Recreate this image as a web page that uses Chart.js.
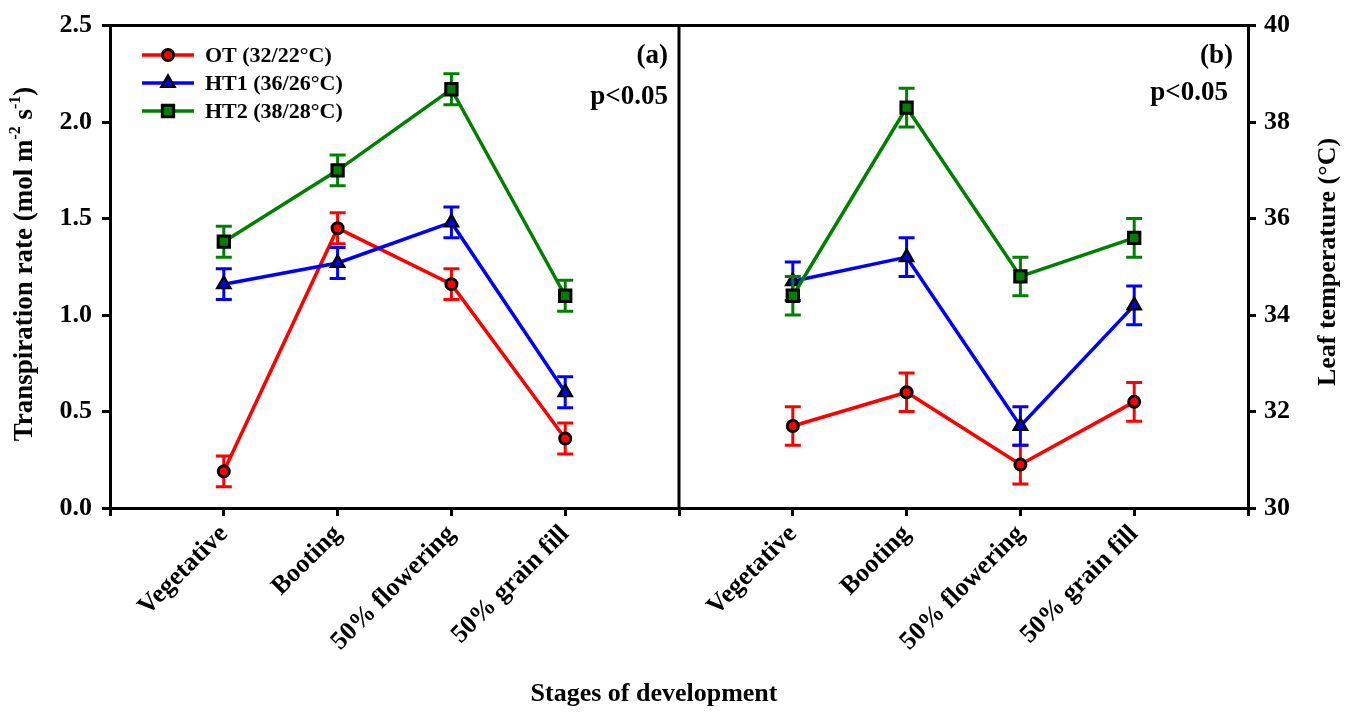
<!DOCTYPE html>
<html>
<head>
<meta charset="utf-8">
<script src="https://cdn.jsdelivr.net/npm/chart.js@4.4.0/dist/chart.umd.min.js"></script>
<style>
  html, body { margin: 0; padding: 0; background: #ffffff; }
  #wrap { position: relative; width: 1356px; height: 716px; }
</style>
</head>
<body>
<div id="wrap"><canvas id="chart" width="1356" height="716"></canvas></div>
<script>
// Growth stages (shared by both panels)
const stages = ['Vegetative', 'Booting', '50% flowering', '50% grain fill'];
const treatments = ['OT (32/22°C)', 'HT1 (36/26°C)', 'HT2 (38/28°C)'];

// Panel (a): transpiration rate, mol m-2 s-1 (mean and error)
const transOT  = [0.19, 1.45, 1.16, 0.36];
const transHT1 = [1.16, 1.27, 1.48, 0.60];
const transHT2 = [1.38, 1.75, 2.17, 1.10];
const transOTErr  = [0.08, 0.08, 0.08, 0.08];
const transHT1Err = [0.08, 0.08, 0.08, 0.08];
const transHT2Err = [0.08, 0.08, 0.08, 0.08];

// Panel (b): leaf temperature, °C (mean and error)
const leafOT  = [31.7, 32.4, 30.9, 32.2];
const leafHT1 = [34.7, 35.2, 31.7, 34.2];
const leafHT2 = [34.4, 38.3, 34.8, 35.6];
const leafOTErr  = [0.4, 0.4, 0.4, 0.4];
const leafHT1Err = [0.4, 0.4, 0.4, 0.4];
const leafHT2Err = [0.4, 0.4, 0.4, 0.4];

// Axis tick values
const transTicks = [0.0, 0.5, 1.0, 1.5, 2.0, 2.5];
const leafTicks  = [30, 32, 34, 36, 38, 40];

const SERIF = "'Liberation Serif', 'Times New Roman', serif";
const RED = '#ff0000', BLUE = '#0000ff', GREEN = '#008000';

// Both panels share one linear x axis: panel (a) uses slots 1-4, panel (b) slots 6-9,
// with the panel divider at 5.
const PANEL_B_OFFSET = 5;
const xOf = (i, panel) => i + 1 + (panel === 'b' ? PANEL_B_OFFSET : 0);

const markerStyles = [
  { pointStyle: 'circle',   pointRadius: 5.5, pointBorderWidth: 3 },
  { pointStyle: 'triangle', pointRadius: 7.5, pointBorderWidth: 2.5 },
  { pointStyle: 'rect',     pointRadius: 8,   pointBorderWidth: 3 }
];
const seriesColors = [RED, BLUE, GREEN];

function makeSeries(idx, values, errors, panel) {
  const m = markerStyles[idx];
  return {
    label: treatments[idx],
    data: values.map((v, i) => ({ x: xOf(i, panel), y: v })),
    errors: errors,
    yAxisID: panel === 'a' ? 'y' : 'y1',
    borderColor: seriesColors[idx],
    backgroundColor: seriesColors[idx],
    borderWidth: 3.5,
    pointStyle: m.pointStyle,
    pointRadius: m.pointRadius,
    pointBorderWidth: m.pointBorderWidth,
    pointBorderColor: '#000000',
    pointBackgroundColor: seriesColors[idx],
    tension: 0,
    clip: false,
    order: 3 - idx
  };
}

// Vertical error bars with caps, drawn just before each series' line and markers
const errorBars = {
  id: 'errorBars',
  beforeDatasetDraw(chart, args) {
    const ds = chart.data.datasets[args.index];
    if (!ds.errors) return;
    const yScale = chart.scales[args.meta.yAxisID];
    const ctx = chart.ctx;
    ctx.save();
    ctx.strokeStyle = ds.borderColor;
    ctx.lineWidth = 3;
    args.meta.data.forEach((pt, i) => {
      const v = ds.data[i].y, e = ds.errors[i];
      const x = pt.x;
      const yTop = yScale.getPixelForValue(v + e);
      const yBot = yScale.getPixelForValue(v - e);
      ctx.beginPath();
      ctx.moveTo(x, yTop); ctx.lineTo(x, yBot);
      ctx.moveTo(x - 8, yTop); ctx.lineTo(x + 8, yTop);
      ctx.moveTo(x - 8, yBot); ctx.lineTo(x + 8, yBot);
      ctx.stroke();
    });
    ctx.restore();
  }
};

function drawMarker(ctx, idx, x, y) {
  const m = markerStyles[idx];
  ctx.save();
  ctx.fillStyle = seriesColors[idx];
  ctx.strokeStyle = '#000000';
  ctx.lineWidth = m.pointBorderWidth;
  ctx.beginPath();
  const r = m.pointRadius;
  if (m.pointStyle === 'circle') {
    ctx.arc(x, y, r, 0, Math.PI * 2);
  } else if (m.pointStyle === 'triangle') {
    for (let k = 0; k < 3; k++) {
      const a = k * 2 * Math.PI / 3;
      const px = x + Math.sin(a) * r, py = y - Math.cos(a) * r;
      if (k === 0) ctx.moveTo(px, py); else ctx.lineTo(px, py);
    }
    ctx.closePath();
  } else {
    const s = Math.SQRT1_2 * r;
    ctx.rect(x - s, y - s, 2 * s, 2 * s);
  }
  ctx.fill();
  ctx.stroke();
  ctx.restore();
}

// Frame, divider, axis titles, legend and panel annotations
const decorations = {
  id: 'decorations',
  afterDraw(chart) {
    const ctx = chart.ctx;
    const area = chart.chartArea;
    const xs = chart.scales.x;
    ctx.save();

    // top edge of the frame and the divider between the two panels
    ctx.strokeStyle = '#000000';
    ctx.lineWidth = 3;
    ctx.beginPath();
    ctx.moveTo(area.left - 1.5, area.top);
    ctx.lineTo(area.right + 1.5, area.top);
    const xd = xs.getPixelForValue(PANEL_B_OFFSET);
    ctx.moveTo(xd, area.top);
    ctx.lineTo(xd, area.bottom);
    ctx.stroke();

    ctx.fillStyle = '#000000';

    // left axis title with superscripts
    const bold26 = 'bold 26px ' + SERIF;
    const titleFont = 'bold 27px ' + SERIF;
    const sup = 'bold 16px ' + SERIF;
    const parts = [
      { t: 'Transpiration rate (mol m', f: titleFont, dy: 0 },
      { t: '-2', f: sup, dy: -9 },
      { t: ' s', f: titleFont, dy: 0 },
      { t: '-1', f: sup, dy: -9 },
      { t: ')', f: titleFont, dy: 0 }
    ];
    ctx.save();
    ctx.translate(25, 264);
    ctx.rotate(-Math.PI / 2);
    ctx.textBaseline = 'middle';
    ctx.textAlign = 'left';
    let total = 0;
    parts.forEach(p => { ctx.font = p.f; total += ctx.measureText(p.t).width; });
    let cx = -total / 2;
    parts.forEach(p => {
      ctx.font = p.f;
      ctx.fillText(p.t, cx, p.dy);
      cx += ctx.measureText(p.t).width;
    });
    ctx.restore();

    // right axis title
    ctx.save();
    ctx.translate(1328, 262);
    ctx.rotate(-Math.PI / 2);
    ctx.font = bold26;
    ctx.textAlign = 'center';
    ctx.textBaseline = 'middle';
    ctx.fillText('Leaf temperature (°C)', 0, 0);
    ctx.restore();

    // shared x axis title
    ctx.font = bold26;
    ctx.textAlign = 'center';
    ctx.textBaseline = 'middle';
    ctx.fillText('Stages of development', 654, 694);

    // panel labels and significance notes
    ctx.textAlign = 'right';
    ctx.textBaseline = 'alphabetic';
    ctx.font = 'bold 27px ' + SERIF;
    ctx.fillText('(a)', 668, 63);
    ctx.fillText('p<0.05', 668, 104);
    ctx.fillText('(b)', 1233, 63);
    ctx.fillText('p<0.05', 1228, 100);

    // legend
    ctx.font = 'bold 22px ' + SERIF;
    ctx.textAlign = 'left';
    ctx.textBaseline = 'middle';
    treatments.forEach((name, i) => {
      const y = 55 + i * 28;
      ctx.strokeStyle = seriesColors[i];
      ctx.lineWidth = 3.5;
      ctx.beginPath();
      ctx.moveTo(142, y);
      ctx.lineTo(194, y);
      ctx.stroke();
      drawMarker(ctx, i, 168, y);
      ctx.fillStyle = '#000000';
      ctx.fillText(name, 205, y + 1);
    });

    ctx.restore();
  }
};

const tickFont = { family: SERIF, weight: 'bold', size: 26 };
const axisGrid = {
  display: true,
  drawOnChartArea: false,
  drawTicks: true,
  tickLength: 8,
  tickWidth: 3,
  tickColor: '#000000',
  color: '#000000',
  lineWidth: 3
};
const axisBorder = { display: true, color: '#000000', width: 3 };

const xTickValues = [0, 1, 2, 3, 4, 5, 6, 7, 8, 9, 10];

new Chart(document.getElementById('chart'), {
  type: 'line',
  data: {
    datasets: [
      makeSeries(0, transOT,  transOTErr,  'a'),
      makeSeries(1, transHT1, transHT1Err, 'a'),
      makeSeries(2, transHT2, transHT2Err, 'a'),
      makeSeries(0, leafOT,  leafOTErr,  'b'),
      makeSeries(1, leafHT1, leafHT1Err, 'b'),
      makeSeries(2, leafHT2, leafHT2Err, 'b')
    ]
  },
  options: {
    responsive: false,
    animation: false,
    events: [],
    layout: { padding: { top: 20, left: 0, right: 0, bottom: 0 } },
    plugins: { legend: { display: false }, tooltip: { enabled: false } },
    scales: {
      x: {
        type: 'linear',
        position: 'bottom',
        min: 0,
        max: 10,
        afterBuildTicks: s => { s.ticks = xTickValues.map(v => ({ value: v })); },
        afterFit: s => { s.height = 208; },
        ticks: {
          autoSkip: false,
          minRotation: 45,
          maxRotation: 45,
          padding: 3,
          color: '#000000',
          font: tickFont,
          callback: v => {
            if (v >= 1 && v <= 4) return stages[v - 1];
            if (v >= 6 && v <= 9) return stages[v - 6];
            return '';
          }
        },
        grid: axisGrid,
        border: axisBorder
      },
      y: {
        type: 'linear',
        position: 'left',
        min: 0,
        max: 2.5,
        afterBuildTicks: s => { s.ticks = transTicks.map(v => ({ value: v })); },
        afterFit: s => { s.width = 110; },
        ticks: { padding: 10, color: '#000000', font: tickFont, callback: v => v.toFixed(1) },
        grid: axisGrid,
        border: axisBorder
      },
      y1: {
        type: 'linear',
        position: 'right',
        min: 30,
        max: 40,
        afterBuildTicks: s => { s.ticks = leafTicks.map(v => ({ value: v })); },
        afterFit: s => { s.width = 108; },
        ticks: { padding: 8, color: '#000000', font: tickFont, callback: v => String(v) },
        grid: axisGrid,
        border: axisBorder
      }
    }
  },
  plugins: [errorBars, decorations]
});
</script>
</body>
</html>
